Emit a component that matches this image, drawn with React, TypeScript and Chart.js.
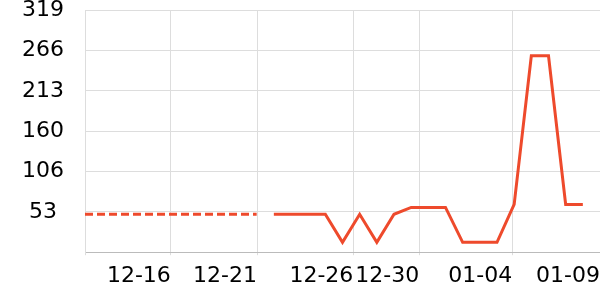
import React, { useEffect, useRef } from 'react';
import { Chart, registerables } from 'chart.js';

Chart.register(...registerables);

// Dashed (earlier) series: points 0..10
const plannedValues = [50, 50, 50, 50, 50, 50, 50, 50, 50, 50, 50];
// Solid series: points 11..29
const actualValues = [50, 50, 50, 50, 13, 50, 13, 50, 59, 59, 59, 13, 13, 13, 63, 259, 259, 63, 63];

// x tick labels and where they fall on the point-index axis
const xTickLabels = ['', '12-16', '12-21', '12-26', '12-30', '01-04', '01-09'];
const xTickValues = [0, 5, 10.02, 15.63, 19.47, 24.89, 30];
const xMax = 30;

const yMax = 319;
const ySteps = 6;

const LINE = '#ee4a2c';
const FONT = 'DejaVu Sans';

export default function App() {
  const ref = useRef<HTMLCanvasElement>(null);

  useEffect(() => {
    const yTicks: number[] = [];
    for (let i = 0; i <= ySteps; i++) yTicks.push((yMax * i) / ySteps);

    const chart = new Chart(ref.current!, {
      type: 'line',
      data: {
        datasets: [
          {
            data: plannedValues.map((y, i) => ({ x: i, y })),
            borderColor: LINE,
            borderWidth: 3,
            borderDash: [8, 4],
            pointRadius: 0,
            fill: false,
            tension: 0,
          },
          {
            data: actualValues.map((y, i) => ({ x: i + plannedValues.length, y })),
            borderColor: LINE,
            borderWidth: 3,
            pointRadius: 0,
            fill: false,
            tension: 0,
          },
        ],
      },
      options: {
        animation: false,
        responsive: false,
        layout: { padding: { left: 0, right: 0, top: 0, bottom: 3 } },
        plugins: { legend: { display: false }, tooltip: { enabled: false } },
        scales: {
          x: {
            type: 'linear',
            min: 0,
            max: xMax,
            afterBuildTicks: (s: any) => {
              s.ticks = xTickValues.map((v) => ({ value: v }));
            },
            afterFit: (s: any) => {
              s.paddingLeft = 0;
              s.paddingRight = 0;
            },
            ticks: {
              autoSkip: false,
              maxRotation: 0,
              minRotation: 0,
              align: 'end',
              padding: 7.7,
              color: '#000',
              font: { family: FONT, size: 22 },
              callback: (_v: any, i: number) => xTickLabels[i],
            },
            grid: {
              color: (ctx: any) => (ctx.tick && ctx.tick.value === xMax ? 'rgba(0,0,0,0)' : '#dddddd'),
              tickLength: 3,
              drawTicks: true,
            },
            border: { color: '#bbbbbb' },
          },
          y: {
            min: 0,
            max: yMax,
            afterBuildTicks: (s: any) => {
              s.ticks = yTicks.map((v) => ({ value: v }));
            },
            afterFit: (s: any) => {
              s.width = 85;
              s.paddingTop = 10.3;
              s.paddingBottom = 0;
            },
            ticks: {
              crossAlign: 'center',
              padding: 21,
              color: '#000',
              font: { family: FONT, size: 22 },
              callback: (v: any) => (v === 0 ? '' : String(Math.round(v))),
            },
            grid: { color: '#dddddd', drawTicks: false },
            border: { color: '#dddddd' },
          },
        },
      } as any,
    });
    return () => chart.destroy();
  }, []);

  return (
    <div style={{ position: 'fixed', left: 0, top: 0, width: 600, height: 300, background: '#fff' }}>
      <canvas ref={ref} width={600} height={300} style={{ display: 'block' }} />
    </div>
  );
}
